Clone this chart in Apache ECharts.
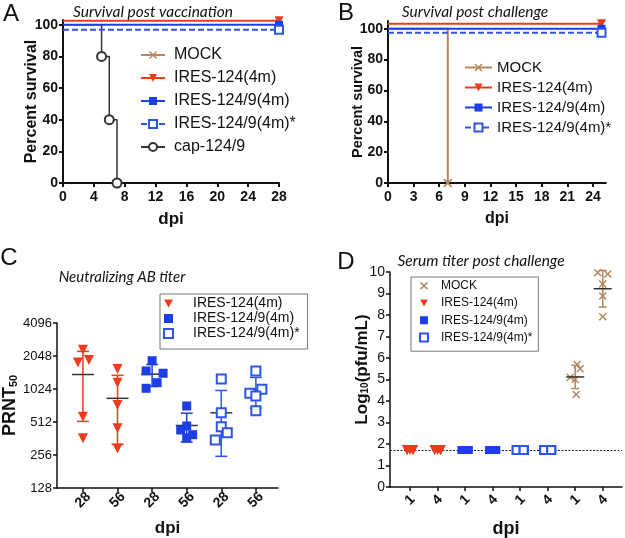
<!DOCTYPE html>
<html><head><meta charset="utf-8">
<script src="https://cdn.jsdelivr.net/npm/echarts@6/dist/echarts.min.js"></script>
<style>html,body{margin:0;padding:0;background:#fff}#c{width:625px;height:538px}</style>
</head><body><div id="c"></div>
<script>
// ---------------- DATA ----------------
// Panel A: survival post vaccination (%), lines drawn slightly offset as in the original
const vaccDays = [0, 28];
const vaccIres124 = [102.5, 102.5];
const vaccIres1249 = [100, 100];
const vaccIres1249s = [96.8, 96.8];
const capDays = [0, 5, 6, 7];
const capSurvival = [100, 80, 40, 0];
const survTicks = [0, 20, 40, 60, 80, 100];
const vaccDayTicks = [0, 4, 8, 12, 16, 20, 24, 28];

// Panel B: survival post challenge (%)
const chalDays = [0, 25];
const chalIres124 = [103.2, 103.2];
const chalIres1249 = [100, 100];
const chalIres1249s = [97.4, 97.4];
const mockDays = [0, 7];
const mockSurvival = [100, 0];
const chalDayTicks = [0, 3, 6, 9, 12, 15, 18, 21, 24];

// Panel C: neutralizing AB titer (PRNT50)
const cCategories = ['28', '56', '28', '56', '28', '56'];
const cGroupVaccine = [0, 0, 1, 1, 2, 2];
const prnt = [
  [2340, 1785, 1880, 572, 364],
  [1562, 1170, 732, 450, 294],
  [1855, 1496, 1426, 1170, 1039],
  [717, 433, 471, 392, 366],
  [1262, 622, 463, 409, 350],
  [1494, 935, 1017, 886, 649]
];
const prntMean = [1388, 842, 1397, 476, 621, 996];
const prntLow = [519, 320, 1080, 336, 249, 686];
const prntHigh = [2257, 1364, 1714, 616, 993, 1306];
const prntTicks = [128, 256, 512, 1024, 2048, 4096];

// Panel D: serum titer post challenge (log10 pfu/mL)
const dCategories = ['1', '4', '1', '4', '1', '4', '1', '4'];
const dGroupSeries = [1, 1, 2, 2, 3, 3, 0, 0];
const titer = [
  [1.72, 1.72, 1.72, 1.72, 1.72],
  [1.72, 1.72, 1.72, 1.72, 1.72],
  [1.72, 1.72, 1.72, 1.72, 1.72],
  [1.72, 1.72, 1.72, 1.72, 1.72],
  [1.72, 1.72, 1.72, 1.72, 1.72],
  [1.72, 1.72, 1.72, 1.72, 1.72],
  [5.7, 5.5, 5.1, 5.0, 4.3],
  [9.97, 9.91, 9.44, 8.88, 7.92]
];
const titerMean = [null, null, null, null, null, null, 5.12, 9.22];
const titerLow = [null, null, null, null, null, null, 4.58, 8.37];
const titerHigh = [null, null, null, null, null, null, 5.66, 10.07];
const detectionLimit = 1.72;
const titerTicks = [0, 1, 2, 3, 4, 5, 6, 7, 8, 9, 10];

const vaccineNames = ['IRES-124(4m)', 'IRES-124/9(4m)', 'IRES-124/9(4m)*'];
const dNames = ['MOCK', 'IRES-124(4m)', 'IRES-124/9(4m)', 'IRES-124/9(4m)*'];

// ---------------- STYLE (not data) ----------------
const FONT = "'Liberation Sans', Arial, Helvetica, sans-serif";
const TFONT = "Lato, 'Open Sans', sans-serif";
const RED = '#f03a1c', BLUE = '#1b3fe4', BLUE2 = '#2d55e6', BROWN = '#b5875c', DARK = '#333';
const XSYM = 'path://M0,1.3L1.3,0L5,3.7L8.7,0L10,1.3L6.3,5L10,8.7L8.7,10L5,6.3L1.3,10L0,8.7L3.7,5Z';
const DOWNTRI = 'path://M0,0L10,0L5,8.7Z';
// horizontal scatter spread of overlapping points (pixels)
const cSpread = [[0,-5,6,0,0],[0,0,0,0,0],[0,-6,11,5,-6],[0,-6,0,6,0],[0,0,0,6,-6],[0,-6,6,0,0]];
const dSpread = [[-3,3,0,-3,3],[-3,3,0,-3,3],[-3.5,3.5,0,-3.5,3.5],[-3.5,3.5,0,-3.5,3.5],[-3.5,3.5,-3.5,3.5,3.5],[-3.5,3.5,-3.5,3.5,3.5],[2,5,-5,0,1],[-5,5,0,0,0]];
const vacStyles = [
  {symbol: 'triangle', rot: 180, color: RED, size: 9},
  {symbol: 'rect', rot: 0, color: BLUE, size: 8},
  {symbol: 'emptyRect', rot: 0, color: BLUE2, size: 8}
];
const cColors = [RED, BLUE, BLUE2];

const chart = echarts.init(document.getElementById('c'), null, {renderer: 'canvas'});

function linePts(xs, ys) {
  return xs.map((x, i) => i === 0 ? {value: [x, ys[i]], symbol: 'none'} : [x, ys[i]]);
}

function valueAxis(o) {
  const base = {
    type: 'value',
    splitLine: {show: false},
    axisLine: {show: true, onZero: false, lineStyle: {color: '#111', width: o.lw || 2}},
    axisTick: {show: true, length: 4, lineStyle: {color: '#111', width: o.lw || 2}, customValues: o.ticks},
    axisLabel: {color: '#111', fontFamily: FONT, fontSize: o.fs || 14, fontWeight: o.bold === false ? 'normal' : 'bold',
      margin: o.margin || 5, customValues: o.ticks, formatter: o.formatter || (v => String(v)), rotate: o.rotate || 0,
      align: o.rotate ? 'center' : undefined, verticalAlign: o.rotate ? 'middle' : undefined},
    nameLocation: 'middle',
    nameMoveOverlap: false,
    nameTextStyle: {color: '#111', fontFamily: FONT, fontWeight: 'bold', fontSize: o.nfs || 16}
  };
  return Object.assign(base, o.extra);
}

function errRender(colors, capW, meanW) {
  return function (params, api) {
    const x = api.value(0), m = api.value(1), lo = api.value(2), hi = api.value(3);
    const col = colors[api.value(4)];
    const pm = api.coord([x, m]), pl = api.coord([x, lo]), ph = api.coord([x, hi]);
    return {type: 'group', children: [
      {type: 'line', shape: {x1: pl[0], y1: pl[1], x2: ph[0], y2: ph[1]}, style: {stroke: col, lineWidth: 1.5}},
      {type: 'line', shape: {x1: pl[0] - capW / 2, y1: pl[1], x2: pl[0] + capW / 2, y2: pl[1]}, style: {stroke: col, lineWidth: 1.5}},
      {type: 'line', shape: {x1: ph[0] - capW / 2, y1: ph[1], x2: ph[0] + capW / 2, y2: ph[1]}, style: {stroke: col, lineWidth: 1.5}},
      {type: 'line', shape: {x1: pm[0] - meanW / 2, y1: pm[1], x2: pm[0] + meanW / 2, y2: pm[1]}, style: {stroke: DARK, lineWidth: 1.5}}
    ]};
  };
}

const grids = [
  {left: 63, top: 20, width: 216, height: 163, outerBoundsMode: 'none'},
  {left: 388, top: 21, width: 217.8, height: 162, outerBoundsMode: 'none'},
  {left: 57, top: 323, width: 221, height: 165, outerBoundsMode: 'none'},
  {left: 390, top: 272, width: 232, height: 215, outerBoundsMode: 'none'}
];

const xAxes = [
  valueAxis({ticks: vaccDayTicks, margin: 7, extra: {gridIndex: 0, min: 0, max: 28, name: 'dpi', nameGap: 28, nameTextStyle: {color: '#111', fontFamily: FONT, fontWeight: 'bold', fontSize: 17}}}),
  valueAxis({ticks: chalDayTicks, margin: 7, extra: {gridIndex: 1, min: 0, max: 25.5, name: 'dpi', nameGap: 28, nameTextStyle: {color: '#111', fontFamily: FONT, fontWeight: 'bold', fontSize: 16}}}),
  valueAxis({ticks: [1, 2, 3, 4, 5, 6], lw: 1.5, rotate: 45, margin: 12, formatter: v => cCategories[Math.round(v) - 1] || '',
    extra: {gridIndex: 2, min: 0.25, max: 6.64, name: 'dpi', nameGap: 32, nameTextStyle: {color: '#111', fontFamily: FONT, fontWeight: 'bold', fontSize: 17}}}),
  valueAxis({ticks: [1, 2, 3, 4, 5, 6, 7, 8], lw: 1.5, rotate: 45, margin: 13, formatter: v => dCategories[Math.round(v) - 1] || '',
    extra: {gridIndex: 3, min: 0.27, max: 8.7, name: 'dpi', nameGap: 33, nameTextStyle: {color: '#111', fontFamily: FONT, fontWeight: 'bold', fontSize: 18}}})
];

const yAxes = [
  valueAxis({ticks: survTicks, extra: {gridIndex: 0, min: 0, max: 103, name: 'Percent survival', nameGap: 23, nameTextStyle: {color: '#111', fontFamily: FONT, fontWeight: 'bold', fontSize: 16}}}),
  valueAxis({ticks: survTicks, extra: {gridIndex: 1, min: 0, max: 105, name: 'Percent survival', nameGap: 23, nameTextStyle: {color: '#111', fontFamily: FONT, fontWeight: 'bold', fontSize: 14.5}}}),
  valueAxis({ticks: prntTicks, lw: 1.5, bold: false, fs: 13, margin: 5, extra: {gridIndex: 2, type: 'log', logBase: 2, min: 128, max: 4096,
    name: '{a|PRNT}{b|50}', nameGap: 38,
    nameTextStyle: {color: '#111', fontFamily: FONT, rich: {
      a: {fontFamily: FONT, fontWeight: 'bold', fontSize: 18, lineHeight: 18, color: '#111', verticalAlign: 'top'},
      b: {fontFamily: FONT, fontWeight: 'bold', fontSize: 11, lineHeight: 11, color: '#111', verticalAlign: 'bottom', padding: [12, 0, 0, 0]}}}}}),
  valueAxis({ticks: titerTicks, lw: 1.5, bold: false, fs: 14, margin: 5, extra: {gridIndex: 3, min: 0, max: 10,
    name: '{a|Log}{b|10}{a|(pfu/mL)}', nameGap: 19.5,
    nameTextStyle: {color: '#111', fontFamily: FONT, padding: [0, 0, 0, 20], rich: {
      a: {fontFamily: FONT, fontWeight: 'bold', fontSize: 17, lineHeight: 17, color: '#111', verticalAlign: 'top'},
      b: {fontFamily: FONT, fontWeight: 'bold', fontSize: 10, lineHeight: 10, color: '#111', verticalAlign: 'bottom', padding: [12, 0, 0, 0]}}}}})
];

const series = [];
// ---- Panel A ----
series.push({name: 'cap-124/9', type: 'line', xAxisIndex: 0, yAxisIndex: 0, step: 'end',
  data: linePts(capDays, capSurvival), symbol: 'emptyCircle', symbolSize: 9,
  lineStyle: {color: DARK, width: 1.5}, itemStyle: {color: DARK, borderWidth: 1.5}});
series.push({name: 'MOCK', type: 'line', xAxisIndex: 0, yAxisIndex: 0, data: [],
  symbol: XSYM, symbolSize: 9, lineStyle: {color: BROWN, width: 2}, itemStyle: {color: BROWN}});
[vaccIres124, vaccIres1249, vaccIres1249s].forEach((ys, k) => {
  series.push({name: vaccineNames[k], type: 'line', xAxisIndex: 0, yAxisIndex: 0, data: linePts(vaccDays, ys),
    symbol: vacStyles[k].symbol, symbolRotate: vacStyles[k].rot, symbolSize: vacStyles[k].size, clip: false,
    lineStyle: {color: vacStyles[k].color, width: 2, type: k === 2 ? [6, 3] : 'solid'},
    itemStyle: {color: vacStyles[k].color, borderWidth: 1.5}});
});
// ---- Panel B ----
series.push({name: 'MOCK', type: 'line', xAxisIndex: 1, yAxisIndex: 1, step: 'end', data: linePts(mockDays, mockSurvival),
  symbol: XSYM, symbolSize: 9, lineStyle: {color: BROWN, width: 2}, itemStyle: {color: BROWN}, clip: false});
[chalIres124, chalIres1249, chalIres1249s].forEach((ys, k) => {
  series.push({name: vaccineNames[k], type: 'line', xAxisIndex: 1, yAxisIndex: 1, data: linePts(chalDays, ys),
    symbol: vacStyles[k].symbol, symbolRotate: vacStyles[k].rot, symbolSize: vacStyles[k].size, clip: false,
    lineStyle: {color: vacStyles[k].color, width: 2, type: k === 2 ? [6, 3] : 'solid'},
    itemStyle: {color: vacStyles[k].color, borderWidth: 1.5}});
});
// ---- Panel C ----
series.push({type: 'custom', xAxisIndex: 2, yAxisIndex: 2, renderItem: errRender(cColors, 12, 22), silent: true, z: 1,
  data: prntMean.map((m, g) => [g + 1, m, prntLow[g], prntHigh[g], cGroupVaccine[g]])});
vaccineNames.forEach((nm, k) => {
  const data = [];
  prnt.forEach((vals, g) => {
    if (cGroupVaccine[g] !== k) return;
    vals.forEach((v, j) => data.push({value: [g + 1, v], symbolOffset: [cSpread[g][j], 0]}));
  });
  series.push({name: nm + ' ', type: 'scatter', xAxisIndex: 2, yAxisIndex: 2, data, z: 3,
    symbol: vacStyles[k].symbol, symbolRotate: vacStyles[k].rot, symbolSize: k === 0 ? 10 : 9,
    itemStyle: {color: vacStyles[k].color, opacity: 1}});
});
// ---- Panel D ----
dNames.forEach((nm, s) => {
  const data = [];
  titer.forEach((vals, g) => {
    if (dGroupSeries[g] !== s) return;
    vals.forEach((v, j) => data.push({value: [g + 1, v], symbolOffset: [dSpread[g][j], 0]}));
  });
  const st = s === 0 ? {symbol: XSYM, rot: 0, color: BROWN, size: 8} : vacStyles[s - 1];
  const ser = {name: nm + ' ', type: 'scatter', xAxisIndex: 3, yAxisIndex: 3, data, z: 3,
    symbol: st.symbol, symbolRotate: st.rot, symbolSize: s === 1 ? 10 : 8,
    itemStyle: {color: st.color, opacity: 1}};
  if (s === 0) {
    ser.markLine = {silent: true, symbol: ['none', 'none'], label: {show: false},
      lineStyle: {type: [2, 1.5], color: '#222', width: 1}, data: [{yAxis: detectionLimit}], z: 2};
  }
  series.push(ser);
  if (s === 0) {
    series.push({type: 'custom', xAxisIndex: 3, yAxisIndex: 3, renderItem: errRender([BROWN], 8, 18), silent: true, z: 4,
      data: titerMean.map((m, g) => m === null ? null : [g + 1, m, titerLow[g], titerHigh[g], 0]).filter(d => d)});
  }
});

function scatterLegendData(names) {
  return names.map(n => n.trim() === 'IRES-124(4m)' ? {name: n, icon: DOWNTRI} : {name: n});
}

const legendText = {fontFamily: FONT, color: '#111'};
const option = {
  animation: false,
  backgroundColor: '#fff',
  grid: grids,
  xAxis: xAxes,
  yAxis: yAxes,
  series,
  legend: [
    {left: 140, top: 46, orient: 'vertical', selectedMode: false, itemWidth: 24, itemHeight: 10, itemGap: 5, padding: 0,
      data: ['MOCK', 'IRES-124(4m)', 'IRES-124/9(4m)', 'IRES-124/9(4m)*', 'cap-124/9'],
      textStyle: Object.assign({fontSize: 16, lineHeight: 18, padding: [0, 0, 0, 4]}, legendText)},
    {left: 464, top: 59, orient: 'vertical', selectedMode: false, itemWidth: 27, itemHeight: 10, itemGap: 3, padding: 0,
      data: ['MOCK', 'IRES-124(4m)', 'IRES-124/9(4m)', 'IRES-124/9(4m)*'],
      textStyle: Object.assign({fontSize: 15, lineHeight: 17}, legendText)},
    {left: 160, top: 294, orient: 'vertical', selectedMode: false, itemWidth: 9, itemHeight: 9, itemGap: 0,
      padding: [2, 8, 8, 3], borderColor: '#777', borderWidth: 1,
      data: scatterLegendData(vaccineNames.map(n => n + ' ')), formatter: n => n.trim(),
      textStyle: Object.assign({fontSize: 14, lineHeight: 15, padding: [0, 0, 0, 15]}, legendText)},
    {left: 411, top: 277, orient: 'vertical', selectedMode: false, itemWidth: 8, itemHeight: 8, itemGap: 0,
      padding: [0, 6, 5, 8], borderColor: '#777', borderWidth: 1,
      data: scatterLegendData(dNames.map(n => n + ' ')), formatter: n => n.trim(),
      textStyle: Object.assign({fontSize: 12, lineHeight: 17.3, padding: [0, 0, 0, 8]}, legendText)}
  ],
  graphic: [
    {type: 'text', x: 11, y: 14, style: {text: 'A', fontFamily: FONT, fontSize: 24, fill: '#111', align: 'center', verticalAlign: 'middle'}},
    {type: 'text', x: 346, y: 13, style: {text: 'B', fontFamily: FONT, fontSize: 24, fill: '#111', align: 'center', verticalAlign: 'middle'}},
    {type: 'text', x: 9, y: 258, style: {text: 'C', fontFamily: FONT, fontSize: 24, fill: '#111', align: 'center', verticalAlign: 'middle'}},
    {type: 'text', x: 346, y: 262, style: {text: 'D', fontFamily: FONT, fontSize: 24, fill: '#111', align: 'center', verticalAlign: 'middle'}},
    {type: 'text', x: 153, y: 12, style: {text: 'Survival post vaccination', fontFamily: TFONT, fontStyle: 'italic', fontSize: 15.5, fill: '#111', align: 'center', verticalAlign: 'middle'}},
    {type: 'text', x: 475, y: 12, style: {text: 'Survival post challenge', fontFamily: TFONT, fontStyle: 'italic', fontSize: 15.5, fill: '#111', align: 'center', verticalAlign: 'middle'}},
    {type: 'text', x: 122, y: 277, style: {text: 'Neutralizing AB titer', fontFamily: TFONT, fontStyle: 'italic', fontSize: 15, fill: '#111', align: 'center', verticalAlign: 'middle'}},
    {type: 'text', x: 481, y: 261, style: {text: 'Serum titer post challenge', fontFamily: TFONT, fontStyle: 'italic', fontSize: 15.5, fill: '#111', align: 'center', verticalAlign: 'middle'}}
  ]
};
chart.setOption(option);
</script></body></html>
